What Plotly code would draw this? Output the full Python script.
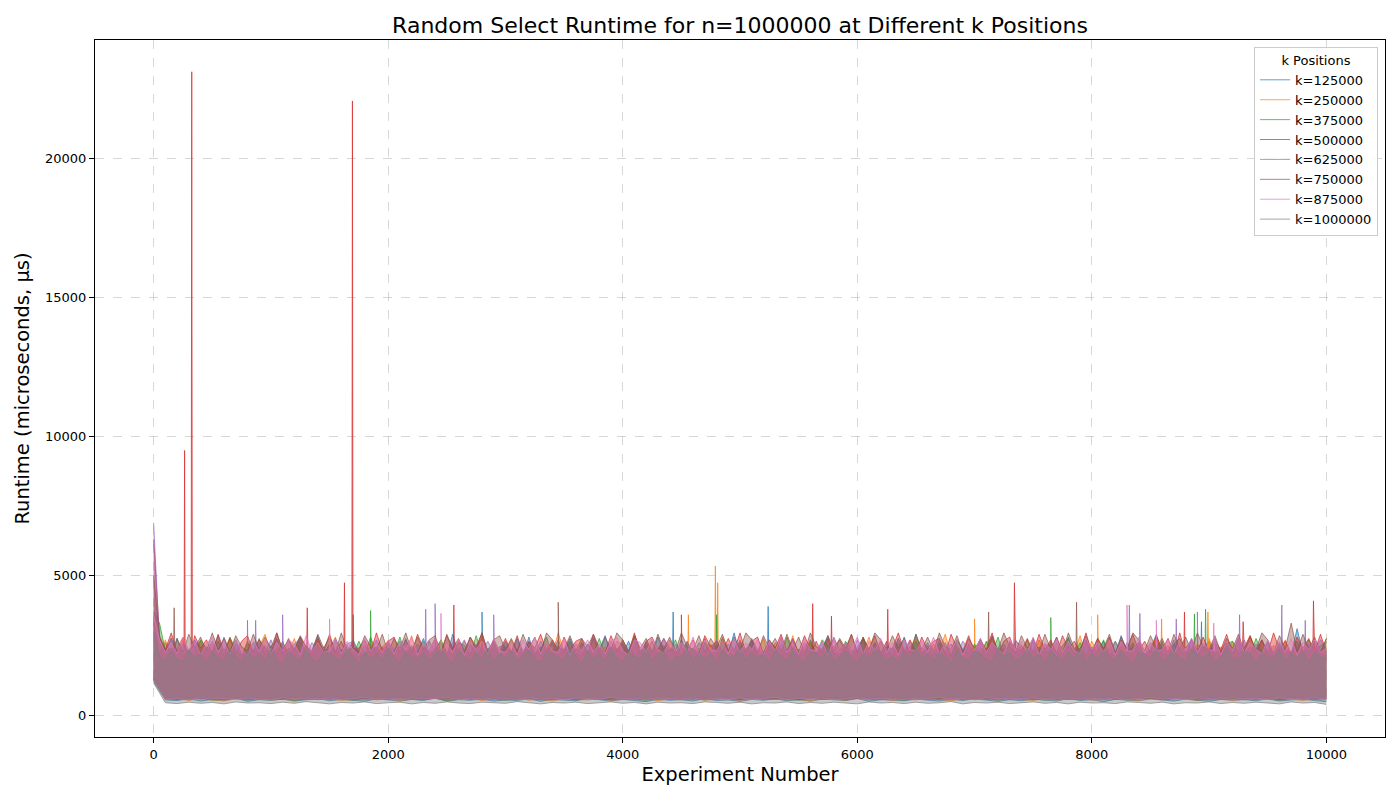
import plotly.graph_objects as go

# Runtime envelope read from the picture: upper edge sampled every 50 experiments,
# lower edge sampled every 100 experiments, plus isolated spikes.
high_experiments = list(range(0, 10001, 50))
low_experiments = list(range(0, 10001, 100))

k_labels = ["k=125000", "k=250000", "k=375000", "k=500000",
            "k=625000", "k=750000", "k=875000", "k=1000000"]

colors = [(31, 119, 180), (255, 127, 14), (44, 160, 44), (214, 39, 40),
          (148, 103, 189), (140, 86, 75), (227, 119, 194), (127, 127, 127)]

high_k125000 = [
    3300, 2150, 2600, 2200, 2750, 2100, 2300, 2650, 2150, 2450,
    2200, 2850, 2100, 2350, 2700, 2150, 2250, 2600, 2100, 2500,
    2250, 2750, 2150, 2400, 2100, 2650, 2200, 2300, 2850, 2150,
    2550, 2200, 2350, 2100, 2700, 2250, 2150, 2800, 2200, 2450,
    2150, 2300, 2650, 2100, 2500, 2250, 2750, 2150, 2350, 2600,
    2100, 2900, 2200, 2300, 2550, 2150, 2700, 2250, 2400, 2100,
    2650, 2200, 2350, 2150, 2800, 2100, 2450, 2250, 2600, 2150,
    2300, 2750, 2200, 2100, 2550, 2250, 2350, 2850, 2150, 2400,
    2200, 2650, 2100, 2300, 2500, 2150, 2800, 2250, 2350, 2100,
    2700, 2200, 2400, 2150, 2600, 2250, 2100, 2750, 2200, 2950,
    2150, 2350, 2650, 2100, 2250, 2550, 2200, 2800, 2150, 2400,
    2250, 2100, 2700, 2200, 2350, 2850, 2150, 2300, 2600, 2100,
    2450, 2750, 2150, 2250, 2650, 2100, 2400, 2200, 2800, 2150,
    2900, 2250, 2350, 2100, 2600, 2200, 2150, 2700, 2300, 2550,
    2100, 2400, 2250, 2850, 2150, 2200, 2650, 2300, 2500, 2100,
    2750, 2150, 2350, 2600, 2250, 2100, 2800, 2200, 2400, 2700,
    2150, 2300, 2650, 2200, 2100, 2850, 2250, 2450, 2600, 2150,
    2350, 2900, 2200, 2100, 2550, 2300, 2150, 2750, 2250, 2400,
    2650, 2150, 2300, 2600, 2200, 2800, 2100, 2450, 2250, 2700,
    2200, 2100, 2550, 2350, 2150, 3100, 2250, 2400, 2650, 2200,
    2150]
low_k125000 = [
    1200, 540, 520, 580, 500, 560, 530, 600, 490, 550,
    520, 570, 500, 540, 590, 510, 560, 530, 490, 580,
    540, 500, 560, 520, 610, 490, 550, 530, 570, 500,
    540, 520, 580, 490, 560, 530, 510, 590, 540, 500,
    560, 520, 480, 570, 530, 550, 500, 590, 520, 540,
    490, 560, 530, 580, 510, 550, 500, 570, 540, 520,
    590, 490, 550, 530, 510, 570, 540, 500, 560, 520,
    580, 530, 490, 550, 510, 570, 540, 500, 590, 520,
    550, 480, 560, 530, 510, 580, 540, 500, 570, 520,
    490, 560, 530, 550, 510, 580, 500, 540, 570, 520,
    480]
peak_exp_k125000 = [2795, 2800, 2805, 4425, 4430, 4435, 5235, 5240, 5245, 8930, 8935, 8940]
peak_rt_k125000 = [2300, 3700, 2300, 2300, 3700, 2300, 2300, 3900, 2300, 2300, 3350, 2300]

high_k250000 = [
    3500, 2200, 2700, 2150, 2400, 2800, 2250, 2350, 2650, 2100,
    2550, 2250, 2150, 2750, 2300, 2100, 2650, 2200, 2450, 2900,
    2150, 2350, 2600, 2200, 2750, 2100, 2500, 2250, 2700, 2150,
    2400, 2800, 2100, 2300, 2650, 2200, 2150, 2750, 2250, 2450,
    2650, 2100, 2350, 2250, 2850, 2150, 2550, 2300, 2200, 2700,
    2100, 2450, 2250, 2650, 2150, 2350, 2800, 2200, 2550, 2100,
    2300, 2700, 2250, 2150, 2600, 2400, 2100, 2650, 2200, 2950,
    2250, 2150, 2550, 2350, 2100, 2750, 2200, 2450, 2150, 2650,
    2500, 2200, 2800, 2100, 2600, 2250, 2350, 2150, 2700, 2300,
    2150, 2650, 2100, 2400, 2250, 2550, 2200, 2800, 2350, 2100,
    2700, 2150, 2450, 2250, 2750, 2100, 2600, 2300, 2200, 2850,
    2100, 2500, 2650, 2150, 2350, 2250, 2750, 2200, 2550, 2100,
    2400, 2250, 2800, 2150, 2650, 2300, 2100, 2600, 2200, 2450,
    2750, 2200, 2100, 2550, 2350, 2900, 2150, 2450, 2250, 2650,
    2300, 2100, 2600, 2750, 2200, 2400, 2150, 2650, 2500, 2250,
    2100, 2700, 2350, 2200, 2600, 2150, 2500, 2250, 2850, 2100,
    2650, 2300, 2150, 2750, 2200, 2450, 2350, 2250, 2600, 2100,
    2400, 2800, 2200, 2500, 2150, 2650, 2300, 2100, 2550, 2350,
    2750, 2150, 2450, 2250, 2650, 2100, 2400, 2850, 2200, 2600,
    2150, 2500, 2300, 2700, 2100, 2650, 2350, 2200, 2550, 2250,
    2750]
low_k250000 = [
    1300, 560, 590, 520, 610, 540, 500, 580, 550, 600,
    530, 570, 510, 620, 550, 590, 520, 560, 600, 540,
    580, 510, 570, 550, 600, 530, 560, 590, 520, 580,
    550, 610, 530, 570, 500, 590, 560, 540, 600, 520,
    570, 550, 590, 510, 580, 540, 600, 530, 560, 590,
    520, 580, 550, 610, 540, 570, 500, 590, 560, 530,
    600, 550, 580, 520, 570, 540, 610, 560, 510, 590,
    550, 580, 530, 600, 560, 520, 590, 540, 570, 610,
    530, 560, 590, 550, 520, 580, 540, 600, 570, 530,
    560, 590, 510, 580, 550, 600, 540, 570, 520, 590,
    560]
peak_exp_k250000 = [4555, 4560, 4565, 4785, 4790, 4795, 4805, 4810, 4815,
                    6995, 7000, 7005, 8045, 8050, 8055, 8590, 8595, 8600, 8985, 8990, 8995]
peak_rt_k250000 = [2300, 3600, 2300, 2300, 5350, 2300, 2300, 4750, 2300,
                   2300, 3450, 2300, 2300, 3600, 2300, 2300, 3450, 2300, 2300, 3700, 2300]

high_k375000 = [
    3700, 3300, 2300, 2750, 2150, 2550, 2250, 2100, 2700, 2400,
    2200, 2650, 2150, 2800, 2350, 2100, 2600, 2250, 2750, 2150,
    2500, 2200, 2650, 2100, 2400, 2800, 2250, 2150, 2600, 2350,
    2100, 2700, 2250, 2500, 2150, 2650, 2200, 2300, 2450, 2100,
    2600, 2250, 2800, 2150, 2450, 2200, 2650, 2100, 2350, 2700,
    2250, 2150, 2600, 2500, 2100, 2850, 2200, 2350, 2650, 2150,
    2450, 2250, 2750, 2100, 2600, 2200, 2350, 2800, 2150, 2500,
    2250, 2650, 2100, 2600, 2300, 2200, 2750, 2150, 2450, 2250,
    2600, 2100, 2850, 2350, 2200, 2650, 2150, 2500, 2250, 2700,
    2100, 2600, 2300, 2200, 2750, 2150, 2450, 2650, 2250, 2100,
    2600, 2350, 2700, 2200, 2150, 2650, 2450, 2100, 2800, 2250,
    2350, 2200, 2600, 2150, 2700, 2500, 2250, 2100, 2650, 2350,
    2200, 2800, 2150, 2600, 2250, 2450, 2100, 2750, 2300, 2200,
    2650, 2150, 2500, 2250, 2250, 2600, 2100, 2700, 2350, 2200,
    2550, 2150, 2650, 2250, 2800, 2100, 2600, 2300, 2200, 2700,
    2150, 2450, 2250, 2350, 2100, 2500, 2750, 2200, 2600, 2150,
    2450, 2250, 2700, 2100, 2650, 2300, 2200, 2600, 2150, 2150,
    2300, 2250, 2650, 2100, 2550, 2750, 2200, 2350, 2150, 2450,
    2250, 2700, 2100, 2550, 2650, 2200, 2350, 2150, 2750, 2250,
    2600, 2100, 2450, 2350, 2200, 2650, 2150, 2700, 2250, 2500,
    2600]
low_k375000 = [
    1250, 600, 550, 580, 620, 530, 570, 600, 540, 590,
    560, 610, 520, 580, 550, 600, 570, 530, 590, 560,
    620, 540, 580, 550, 600, 520, 570, 610, 560, 590,
    530, 580, 600, 550, 570, 620, 540, 590, 560, 600,
    550, 580, 530, 610, 570, 560, 590, 540, 600, 580,
    560, 620, 550, 570, 590, 530, 600, 560, 580, 540,
    610, 570, 550, 590, 530, 600, 580, 560, 620, 550,
    570, 590, 540, 600, 560, 580, 530, 610, 570, 550,
    590, 560, 600, 540, 580, 620, 550, 570, 600, 530,
    580, 560, 590, 550, 610, 570, 540, 600, 580, 560,
    590]
peak_exp_k375000 = [1845, 1850, 1855, 4795, 4800, 4805, 7645, 7650, 7655,
                    8870, 8875, 8880, 8965, 8970, 8975]
peak_rt_k375000 = [2300, 3750, 2300, 2300, 3600, 2300, 2300, 3500, 2300,
                   2300, 3630, 2300, 2300, 3800, 2300]

high_k500000 = [
    6300, 2800, 2350, 2950, 2250, 2750, 2200, 2850, 2400, 2700,
    2250, 2900, 2300, 2750, 2200, 2650, 2850, 2250, 2700, 2400,
    2200, 2950, 2350, 2700, 2250, 2800, 2450, 2200, 2750, 2300,
    2900, 2250, 2650, 2200, 2850, 2400, 2700, 2250, 2950, 2300,
    2650, 2800, 2250, 2700, 2200, 2900, 2400, 2300, 2750, 2250,
    2850, 2350, 2650, 2200, 2800, 2450, 2950, 2250, 2700, 2300,
    2750, 2250, 2850, 2200, 2650, 2400, 2900, 2300, 2700, 2250,
    2800, 2350, 2650, 2750, 2200, 2900, 2400, 2250, 2850, 2300,
    2700, 2250, 2950, 2200, 2650, 2800, 2350, 2750, 2400, 2250,
    2900, 2300, 2700, 2200, 2850, 2450, 2650, 2250, 2750, 2300,
    2950, 2250, 2650, 2800, 2200, 2700, 2400, 2900, 2300, 2750,
    2250, 2850, 2350, 2650, 2200, 2750, 2450, 2700, 2300, 2900,
    2250, 2750, 2350, 2850, 2200, 2650, 2400, 2950, 2300, 2700,
    2250, 2800, 2350, 2650, 2750, 2200, 2900, 2400, 2300, 2850,
    2250, 2700, 2350, 2950, 2200, 2650, 2800, 2400, 2300, 2750,
    2250, 2900, 2350, 2700, 2200, 2850, 2400, 2650, 2300, 2950,
    2250, 2750, 2350, 2800, 2200, 2700, 2400, 2900, 2300, 2650,
    2250, 2850, 2350, 2750, 2200, 2950, 2400, 2700, 2300, 2800,
    2250, 2650, 2350, 2900, 2200, 2750, 2400, 2850, 2300, 2700,
    2250, 2950, 2350, 2650, 2200, 2800, 2400, 2750, 2300, 2900,
    2250]
low_k500000 = [
    1300, 580, 610, 560, 630, 590, 550, 600, 620, 570,
    600, 560, 640, 590, 610, 570, 600, 550, 620, 590,
    570, 630, 600, 560, 610, 580, 640, 570, 600, 620,
    590, 560, 610, 580, 630, 600, 570, 620, 590, 550,
    610, 600, 570, 640, 580, 600, 620, 560, 590, 610,
    570, 630, 600, 580, 620, 560, 610, 590, 640, 570,
    600, 620, 580, 610, 560, 630, 590, 600, 570, 620,
    580, 610, 640, 570, 600, 590, 620, 560, 610, 580,
    630, 600, 570, 620, 590, 610, 560, 600, 640, 580,
    610, 570, 620, 600, 590, 630, 560, 610, 580, 600,
    620]
peak_exp_k500000 = [259, 264, 269, 320, 325, 330, 1305, 1310, 1315, 1622, 1627, 1632,
                    1690, 1695, 1701, 2555, 2560, 2565, 4495, 4500, 4505, 5615, 5620, 5625,
                    5775, 5780, 5785, 6255, 6260, 6265, 7335, 7340, 7345, 8785, 8790, 8795,
                    9285, 9290, 9295, 9885, 9890, 9895]
peak_rt_k500000 = [2400, 9500, 2400, 2400, 23100, 2400, 2400, 3850, 2400, 2400, 4750, 2400,
                   2400, 22050, 2400, 2400, 3950, 2400, 2400, 3600, 2400, 2400, 4000, 2400,
                   2400, 3550, 2400, 2400, 3800, 2400, 2400, 4750, 2400, 2400, 3700, 2400,
                   2400, 3350, 2400, 2400, 4100, 2400]

high_k625000 = [
    6900, 2600, 2200, 2750, 2300, 2550, 2150, 2700, 2350, 2250,
    2650, 2200, 2800, 2300, 2550, 2150, 2450, 2350, 2600, 2250,
    2700, 2150, 2400, 2300, 2550, 2750, 2200, 2600, 2350, 2450,
    2200, 2750, 2300, 2550, 2650, 2150, 2500, 2250, 2700, 2200,
    2600, 2350, 2250, 2750, 2150, 2550, 2300, 2650, 2450, 2200,
    2150, 2600, 2350, 2700, 2200, 2550, 2300, 2650, 2250, 2450,
    2500, 2200, 2750, 2300, 2550, 2150, 2650, 2350, 2250, 2700,
    2200, 2600, 2300, 2550, 2150, 2800, 2350, 2250, 2650, 2200,
    2550, 2300, 2700, 2150, 2600, 2350, 2250, 2750, 2200, 2550,
    2300, 2650, 2150, 2600, 2350, 2250, 2700, 2200, 2550, 2300,
    2650, 2150, 2750, 2350, 2250, 2600, 2200, 2550, 2300, 2700,
    2150, 2600, 2350, 2250, 2650, 2200, 2800, 2300, 2550, 2150,
    2700, 2350, 2250, 2600, 2200, 2550, 2300, 2750, 2150, 2650,
    2350, 2250, 2600, 2200, 2700, 2300, 2550, 2150, 2650, 2350,
    2250, 2750, 2200, 2600, 2300, 2550, 2150, 2700, 2350, 2250,
    2650, 2200, 2550, 2300, 2800, 2150, 2600, 2350, 2250, 2700,
    2200, 2550, 2300, 2350, 2650, 2150, 2600, 2250, 2550, 2200,
    2600, 2300, 2550, 2150, 2700, 2350, 2250, 2650, 2200, 2550,
    2300, 2750, 2150, 2600, 2350, 2250, 2700, 2200, 2550, 2300,
    2650, 2150, 2600, 2350, 2250, 2600, 2200, 2550, 2300, 2700,
    2350]
low_k625000 = [
    1250, 590, 560, 620, 580, 600, 550, 610, 570, 630,
    590, 560, 600, 620, 570, 610, 580, 550, 600, 630,
    570, 610, 590, 560, 620, 580, 600, 570, 630, 590,
    560, 610, 580, 620, 600, 570, 590, 640, 560, 600,
    610, 580, 620, 570, 600, 590, 560, 630, 580, 610,
    600, 570, 620, 590, 560, 610, 580, 630, 600, 570,
    590, 620, 560, 600, 610, 580, 570, 630, 590, 600,
    620, 560, 610, 580, 600, 570, 630, 590, 560, 610,
    580, 620, 600, 570, 590, 630, 560, 610, 580, 600,
    570, 620, 590, 600, 560, 610, 580, 630, 570, 600,
    590]
peak_exp_k625000 = [795, 800, 805, 865, 870, 875, 1095, 1100, 1105, 2315, 2320, 2325,
                    2395, 2400, 2405, 2895, 2900, 2905, 8315, 8320, 8325, 8405, 8410, 8415,
                    8715, 8720, 8725, 8895, 8900, 8905, 9255, 9260, 9265, 9615, 9620, 9625,
                    9815, 9820, 9825]
peak_rt_k625000 = [2300, 3400, 2300, 2300, 3400, 2300, 2300, 3600, 2300, 2300, 3800, 2300,
                   2300, 4000, 2300, 2300, 3600, 2300, 2300, 3950, 2300, 2300, 3650, 2300,
                   2300, 3450, 2300, 2300, 3700, 2300, 2300, 3600, 2300, 2300, 3950, 2300,
                   2300, 3400, 2300]

high_k750000 = [
    5000, 2850, 2300, 2400, 2750, 2250, 2900, 2400, 2800, 2300,
    2950, 2350, 2750, 2250, 2850, 2450, 2300, 2900, 2350, 2800,
    2400, 2950, 2250, 2750, 2350, 2850, 2450, 2300, 2900, 2400,
    2800, 2250, 2950, 2350, 2700, 2300, 2850, 2450, 2350, 2900,
    2250, 2750, 2400, 2950, 2300, 2800, 2350, 2700, 2850, 2250,
    2900, 2400, 2750, 2300, 2800, 2350, 2950, 2250, 2700, 2850,
    2350, 2750, 2300, 2900, 2400, 2800, 2250, 2950, 2700, 2350,
    2350, 2850, 2300, 2750, 2450, 2900, 2250, 2800, 2350, 2950,
    2700, 2300, 2850, 2400, 2750, 2250, 2900, 2350, 2800, 2300,
    2950, 2450, 2350, 2850, 2250, 2750, 2400, 2900, 2300, 2800,
    2350, 2950, 2700, 2250, 2850, 2400, 2750, 2300, 2900, 2350,
    2800, 2250, 2950, 2450, 2350, 2850, 2300, 2750, 2400, 2900,
    2250, 2800, 2350, 2950, 2700, 2300, 2850, 2400, 2750, 2250,
    2900, 2350, 2800, 2300, 2950, 2450, 2350, 2850, 2250, 2750,
    2400, 2700, 2300, 2800, 2350, 2950, 2450, 2250, 2850, 2400,
    2750, 2300, 2900, 2350, 2800, 2250, 2950, 2400, 2350, 2850,
    2300, 2750, 2400, 2900, 2250, 2800, 2350, 2950, 2700, 2300,
    2850, 2400, 2750, 2250, 2900, 2350, 2800, 2300, 2950, 2450,
    2350, 2850, 2250, 2750, 2400, 2900, 2300, 2800, 2350, 2950,
    2700, 2250, 2850, 2400, 3300, 2300, 2900, 2350, 2800, 2250,
    2750]
low_k750000 = [
    1300, 610, 580, 630, 600, 570, 620, 590, 640, 600,
    570, 620, 610, 580, 630, 600, 590, 640, 570, 610,
    600, 630, 580, 620, 590, 610, 570, 640, 600, 580,
    620, 590, 610, 630, 570, 600, 640, 580, 610, 590,
    630, 600, 570, 620, 610, 580, 640, 590, 600, 620,
    570, 610, 630, 590, 600, 580, 620, 640, 570, 610,
    600, 590, 630, 580, 610, 620, 570, 600, 640, 590,
    610, 580, 620, 600, 630, 570, 610, 590, 640, 600,
    580, 620, 610, 570, 630, 600, 590, 640, 580, 610,
    620, 570, 600, 630, 590, 610, 580, 640, 600, 620,
    590]
peak_exp_k750000 = [170, 175, 180, 1697, 1702, 1707, 3445, 3450, 3455, 7115, 7120, 7125,
                    7865, 7870, 7875]
peak_rt_k750000 = [2400, 3850, 2400, 2400, 3600, 2400, 2400, 4050, 2400, 2400, 3700, 2400,
                   2400, 4050, 2400]

high_k875000 = [
    3600, 2700, 2250, 2600, 2200, 2750, 2350, 2650, 2150, 2550,
    2800, 2250, 2600, 2200, 2700, 2350, 2150, 2650, 2300, 2750,
    2200, 2600, 2300, 2700, 2550, 2150, 2850, 2300, 2600, 2250,
    2450, 2700, 2200, 2650, 2350, 2150, 2750, 2300, 2600, 2250,
    2700, 2200, 2650, 2350, 2800, 2150, 2600, 2300, 2750, 2250,
    2550, 2250, 2700, 2150, 2600, 2350, 2650, 2200, 2750, 2300,
    2250, 2600, 2150, 2700, 2350, 2800, 2200, 2650, 2300, 2250,
    2750, 2150, 2600, 2300, 2700, 2250, 2550, 2200, 2650, 2800,
    2300, 2150, 2700, 2600, 2250, 2750, 2350, 2200, 2650, 2300,
    2600, 2250, 2800, 2150, 2700, 2350, 2300, 2650, 2200, 2750,
    2250, 2600, 2350, 2700, 2150, 2650, 2300, 2800, 2250, 2600,
    2200, 2750, 2350, 2300, 2650, 2150, 2700, 2250, 2600, 2350,
    2800, 2200, 2650, 2300, 2750, 2250, 2600, 2150, 2700, 2350,
    2300, 2650, 2250, 2800, 2200, 2600, 2350, 2700, 2150, 2650,
    2300, 2750, 2250, 2600, 2350, 2200, 2700, 2300, 2650, 2250,
    2800, 2150, 2600, 2350, 2700, 2250, 2650, 2300, 2200, 2750,
    2350, 2600, 2250, 2700, 2150, 2650, 2300, 2300, 2800, 2250,
    2600, 2350, 2350, 2700, 2200, 2650, 2300, 2750, 2250, 2600,
    2350, 2700, 2150, 2650, 2300, 2800, 2250, 2600, 2350, 2200,
    2700, 2300, 2650, 2250, 2750, 2150, 2600, 2350, 2700, 2250,
    2400]
low_k875000 = [
    1250, 570, 600, 550, 620, 580, 600, 560, 610, 590,
    550, 620, 580, 600, 570, 610, 560, 590, 630, 570,
    600, 550, 610, 580, 590, 620, 560, 600, 570, 610,
    590, 550, 620, 580, 600, 560, 610, 590, 570, 630,
    580, 600, 560, 610, 590, 570, 620, 550, 600, 580,
    610, 570, 590, 630, 560, 600, 580, 610, 550, 590,
    620, 570, 600, 580, 560, 610, 590, 630, 570, 600,
    550, 620, 580, 600, 570, 610, 560, 590, 620, 580,
    600, 570, 610, 550, 590, 630, 580, 600, 560, 610,
    590, 570, 620, 580, 600, 560, 610, 590, 570, 620,
    580]
peak_exp_k875000 = [1495, 1500, 1505, 2445, 2450, 2455, 8295, 8300, 8305, 8545, 8550, 8555,
                    9035, 9040, 9045]
peak_rt_k875000 = [2300, 3450, 2300, 2300, 3650, 2300, 2300, 3950, 2300, 2300, 3400, 2300,
                   2300, 3300, 2300]

high_k1000000 = [
    3000, 2100, 1950, 2300, 2000, 1900, 2350, 2050, 2200, 1850,
    2250, 2050, 1950, 2400, 2100, 1900, 2300, 2000, 2200, 1950,
    2350, 2050, 1850, 2250, 2100, 1950, 2400, 2000, 1900, 2300,
    2200, 2050, 1950, 2350, 2100, 1850, 2250, 2000, 2200, 1950,
    2400, 2050, 1900, 2300, 2100, 2000, 2250, 1950, 2200, 2350,
    2050, 1850, 2300, 2100, 1950, 2250, 2000, 2400, 1900, 2200,
    2050, 2300, 1950, 2100, 2350, 2000, 1900, 2250, 2200, 2050,
    1950, 2400, 2100, 1850, 2300, 2000, 2200, 1950, 2350, 2050,
    1900, 2250, 2100, 2000, 2400, 1950, 2200, 2300, 1850, 2100,
    2050, 2350, 1950, 2250, 2000, 2200, 1900, 2300, 2100, 2050,
    2400, 1950, 2250, 2000, 2200, 1850, 2350, 2100, 1950, 2300,
    2050, 1900, 2250, 2200, 2000, 2400, 1950, 2100, 2300, 2050,
    1850, 2250, 2000, 2350, 2200, 1950, 2100, 1900, 2300, 2050,
    2400, 2000, 2200, 1950, 2250, 2100, 1850, 2350, 2050, 1950,
    2300, 2200, 2000, 1900, 2400, 2100, 2250, 1950, 2050, 2350,
    2000, 2200, 1850, 2300, 2100, 1950, 2250, 2050, 2400, 1900,
    2200, 2000, 2350, 2100, 1950, 2300, 2050, 1850, 2250, 2200,
    2000, 2400, 1900, 2100, 2300, 2050, 1950, 2350, 2200, 2000,
    2250, 1900, 2100, 2400, 2050, 1950, 2300, 2200, 1850, 2250,
    2100, 2000, 2350, 1950, 2200, 2050, 2300, 1900, 2250, 2100,
    2050]
low_k1000000 = [
    1150, 440, 410, 460, 420, 450, 400, 470, 430, 440,
    410, 460, 420, 480, 440, 400, 450, 430, 470, 410,
    440, 460, 400, 450, 420, 470, 430, 410, 460, 440,
    420, 480, 440, 400, 450, 430, 460, 410, 440, 470,
    420, 450, 400, 460, 430, 440, 410, 470, 450, 420,
    460, 400, 440, 430, 470, 410, 450, 420, 460, 440,
    400, 470, 430, 450, 410, 460, 420, 440, 480, 400,
    450, 430, 460, 410, 440, 470, 420, 450, 400, 460,
    430, 440, 410, 470, 450, 420, 460, 400, 440, 430,
    470, 410, 450, 420, 460, 440, 400, 470, 430, 450,
    380]
peak_exp_k1000000 = []
peak_rt_k1000000 = []

series = [
    (high_k125000, low_k125000, peak_exp_k125000, peak_rt_k125000),
    (high_k250000, low_k250000, peak_exp_k250000, peak_rt_k250000),
    (high_k375000, low_k375000, peak_exp_k375000, peak_rt_k375000),
    (high_k500000, low_k500000, peak_exp_k500000, peak_rt_k500000),
    (high_k625000, low_k625000, peak_exp_k625000, peak_rt_k625000),
    (high_k750000, low_k750000, peak_exp_k750000, peak_rt_k750000),
    (high_k875000, low_k875000, peak_exp_k875000, peak_rt_k875000),
    (high_k1000000, low_k1000000, peak_exp_k1000000, peak_rt_k1000000),
]


def rgba(c, a):
    return f"rgba({c[0]},{c[1]},{c[2]},{a})"


fig = go.Figure()
for label, color, (high, low, pk_x, pk_y) in zip(k_labels, colors, series):
    pts = sorted(list(zip(high_experiments, high)) + list(zip(pk_x, pk_y)), key=lambda p: p[0])
    fig.add_trace(go.Scatter(
        x=[p[0] for p in pts], y=[p[1] for p in pts],
        mode="lines", name=label,
        line=dict(color=rgba(color, 0.7), width=1),
    ))
    fig.add_trace(go.Scatter(
        x=low_experiments, y=low,
        mode="lines", name=label, showlegend=False,
        line=dict(color=rgba(color, 0.7), width=1),
        fill="tonexty", fillcolor=rgba(color, 0.42),
    ))

grid = "rgba(176,176,176,0.5)"
fig.update_layout(
    width=1400, height=800,
    paper_bgcolor="white", plot_bgcolor="white",
    font=dict(family="DejaVu Sans", size=13, color="black"),
    margin=dict(l=87, r=23, t=32, b=71),
    title=dict(text="Random Select Runtime for n=1000000 at Different k Positions",
               x=0.5, xref="paper", y=0.979, yref="container", yanchor="middle",
               font=dict(size=22, color="black")),
    showlegend=True,
    legend=dict(
        title=dict(text="k Positions", side="top center", font=dict(size=13)),
        x=0.9946, xanchor="right", y=0.99, yanchor="top",
        bgcolor="rgba(255,255,255,0.8)", bordercolor="#cccccc", borderwidth=1,
        font=dict(size=13), tracegroupgap=0, traceorder="normal",
    ),
)
fig.update_xaxes(
    title=dict(text="Experiment Number", font=dict(size=19.5), standoff=6),
    range=[-500, 10500], tickvals=[0, 2000, 4000, 6000, 8000, 10000], tickformat="d",
    showline=True, linecolor="black", linewidth=1, mirror=True,
    ticks="outside", ticklen=5, tickcolor="black", automargin=False,
    showgrid=True, gridcolor=grid, griddash="dash", gridwidth=1, zeroline=False,
)
fig.update_yaxes(
    title=dict(text="Runtime (microseconds, µs)", font=dict(size=19.5), standoff=10),
    range=[-790, 24240], tickvals=[0, 5000, 10000, 15000, 20000], tickformat="d",
    showline=True, linecolor="black", linewidth=1, mirror=True,
    ticks="outside", ticklen=5, tickcolor="black", automargin=False,
    showgrid=True, gridcolor=grid, griddash="dash", gridwidth=1, zeroline=False,
)
fig.write_html("out.html")
